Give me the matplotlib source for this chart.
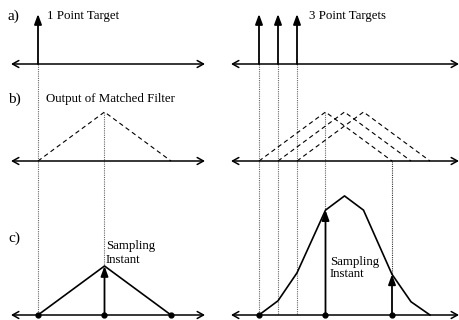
import numpy as np
import matplotlib
matplotlib.use("Agg")
import matplotlib.pyplot as plt

# target positions (in units of target spacing)
targets_1 = [0.0]
targets_3 = [0.0, 1.0, 2.0]
half_width = 3.5          # half width of matched filter output

# sampled output of matched filter (corner points)
samples_1 = [0.0, 3.5, 7.0]
output_1 = [0.0, 1.0, 0.0]
samples_3 = [0.0, 1.0, 2.0, 3.5, 4.5, 5.5, 7.0, 8.0, 9.0]
output_3 = [0.0, 0.29, 0.86, 2.14, 2.43, 2.14, 0.83, 0.27, 0.0]

sampling_1 = [3.5]
sampling_3 = [3.5, 7.0]

# layout (pixels)
PX = 19.0
AMP = 49.0
Y_A, Y_B, Y_C = 64, 161, 315
TARGET_H = 50

plt.rcParams["font.family"] = ["Liberation Serif", "DejaVu Serif"]

fig = plt.figure(figsize=(4.6, 3.2), dpi=100)
ax = fig.add_axes([0, 0, 1, 1])
ax.set_xlim(0, 460)
ax.set_ylim(320, 0)
ax.axis("off")


def axis_line(x1, x2, y):
    ax.annotate("", xy=(x2, y), xytext=(x1, y),
                arrowprops=dict(arrowstyle="<->,head_length=0.45,head_width=0.25",
                                lw=1.1, color="black", shrinkA=0, shrinkB=0,
                                mutation_scale=10))


def up_arrow(x, y0, y1, lw=1.2):
    ax.annotate("", xy=(x, y1), xytext=(x, y0),
                arrowprops=dict(arrowstyle="-|>,head_length=0.6,head_width=0.22",
                                lw=lw, color="black", fc="black", shrinkA=0, shrinkB=0,
                                mutation_scale=10))


def vdot(x, y0, y1, color="0.4"):
    ax.plot([x, x], [y0, y1], color=color, lw=0.8, ls=(0, (1, 1)), zorder=1)


def panel(x0, xl, xr, targets, samples, output, sampling, dots):
    tx = lambda t: x0 + np.asarray(t) * PX
    out = dict(zip(samples, output))

    axis_line(xl, xr, Y_A)
    axis_line(xl, xr, Y_B)
    axis_line(xl, xr, Y_C)

    # targets and guide lines
    for t in targets:
        vdot(tx(t), Y_A, Y_C)
        up_arrow(tx(t), Y_A, Y_A - TARGET_H, lw=1.3)

    # matched filter outputs (dashed triangles)
    for t in targets:
        xs = tx([t, t + half_width, t + 2 * half_width])
        ys = [Y_B, Y_B - AMP, Y_B]
        ax.plot(xs, ys, color="black", lw=0.8, ls=(0, (4, 3)))

    # summed output
    ax.plot(tx(samples), Y_C - AMP * np.asarray(output), color="black", lw=1.2)

    # sampling instants
    for i, s in enumerate(sampling):
        y_top = Y_C - AMP * out[s]
        if i == 0:
            vdot(tx(s), Y_B - AMP, y_top)
        else:
            vdot(tx(s), Y_B, y_top, color="0.2")
        up_arrow(tx(s), Y_C, y_top, lw=1.3)

    ax.plot(tx(dots), [Y_C] * len(dots), "o", color="black", ms=3.5, zorder=5)


panel(38, 11, 205, targets_1, samples_1, output_1, sampling_1, [0.0, 3.5, 7.0])
panel(259, 231, 459, targets_3, samples_3, output_3, sampling_3, [0.0, 3.5, 7.0])

fs = 9.3
ax.text(8, 16, "a)", fontsize=11, va="center")
ax.text(8, 99, "b)", fontsize=11, va="center")
ax.text(8, 238, "c)", fontsize=11, va="center")
ax.text(47, 16, "1 Point Target", fontsize=fs, va="center")
ax.text(309, 16, "3 Point Targets", fontsize=fs, va="center")
ax.text(46, 99, "Output of Matched Filter", fontsize=fs, va="center")
ax.text(106, 253, "Sampling\nInstant", fontsize=fs, va="center", linespacing=1.15)
ax.text(330, 268, "Sampling\nInstant", fontsize=fs, va="center", linespacing=1.0)

fig.savefig("out.png", dpi=100)
